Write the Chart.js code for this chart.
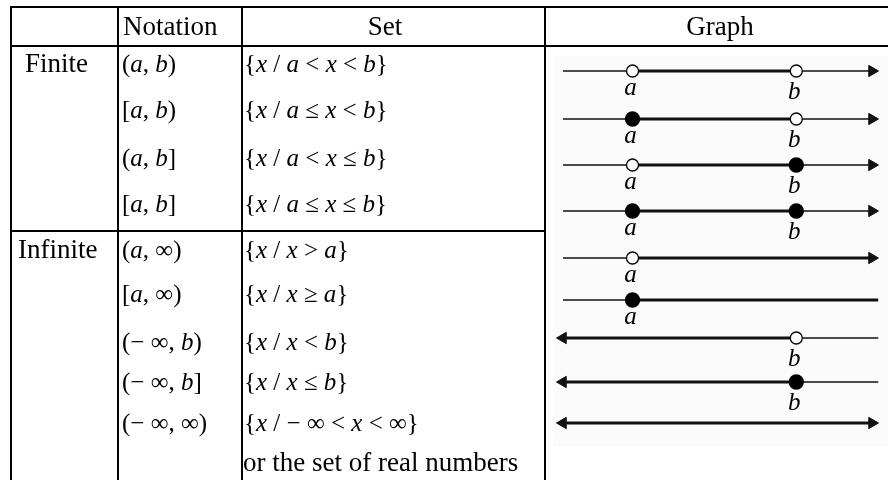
<!DOCTYPE html>
<html>
<head>
<meta charset="utf-8">
<script src="https://cdn.jsdelivr.net/npm/chart.js@4"></script>
<style>
  html, body { margin: 0; padding: 0; background: #fff; }
  #chart { display: block; }
</style>
</head>
<body>
<canvas id="chart" width="888" height="480"></canvas>
<script>
// --- Data ---
const HEADERS = ['Notation', 'Set', 'Graph'];
const GROUPS = ['Finite', 'Infinite'];
const GROUP_FIRST_ROW = [0, 4];
const NOTATIONS = ['(a, b)', '[a, b)', '(a, b]', '[a, b]', '(a, ∞)', '[a, ∞)', '(− ∞, b)', '(− ∞, b]', '(− ∞, ∞)'];
const SETS = ['{x / a < x < b}', '{x / a ≤ x < b}', '{x / a < x ≤ b}', '{x / a ≤ x ≤ b}',
  '{x / x > a}', '{x / x ≥ a}', '{x / x < b}', '{x / x ≤ b}', '{x / − ∞ < x < ∞}'];
const SET_NOTE = 'or the set of real numbers';

// number line values
const A = 2.25;
const B = 7.55;
const LINE_MIN = 0;
const LINE_MAX = 10;      // where an arrow sits
const LINE_MAX_PLAIN = 10.2; // right end without arrow

// null = unbounded
const FROM = [A, A, A, A, A, A, null, null, null];
const TO = [B, B, B, B, null, null, B, B, null];
const FROM_CLOSED = [false, true, false, true, false, true, false, false, false];
const TO_CLOSED = [false, false, true, true, false, false, false, true, false];
const ARROW_LEFT = [false, false, false, false, false, false, true, true, true];
const ARROW_RIGHT = [true, true, true, true, true, false, false, false, true];

// --- Layout ---
const COL_X = [11, 118, 242, 545];
const RIGHT_X = 888;
const TOP_Y = 7;
const HEAD_Y = 46;
const GROUP_SEP_Y = 231;
const HEAD_BASE = 35;
const HEAD_X = [123, 385, 720];
const GROUP_X = [25, 18];
const TEXT_BASE = [72, 118, 166, 212, 258, 302, 350, 390, 431];
const NOTE_BASE = 471;
const NOTATION_X = 122;
const SET_X = 244;
const LINE_Y = [71, 119, 165, 211, 258, 300, 338, 382, 423];
const SERIF = '"Liberation Serif", "DejaVu Serif", serif';

const THIN = 1.4;
const THICK = 3.2;
const ARROW_R = 6.5;

// --- Datasets ---
const datasets = [];

function segment(i, x0, x1, width, arrowL, arrowR) {
  datasets.push({
    data: [{ x: x0, y: LINE_Y[i] }, { x: x1, y: LINE_Y[i] }],
    showLine: true,
    borderColor: '#111',
    borderWidth: width,
    pointStyle: 'triangle',
    pointRotation: [-90, 90],
    pointRadius: [arrowL ? ARROW_R : 0, arrowR ? ARROW_R : 0],
    pointBackgroundColor: '#111',
    pointBorderColor: '#111',
    pointBorderWidth: 1,
    order: 2,
  });
}

const endPoints = [];
const endFill = [];

for (let i = 0; i < NOTATIONS.length; i++) {
  const end = ARROW_RIGHT[i] ? LINE_MAX : LINE_MAX_PLAIN;
  const lo = FROM[i] === null ? LINE_MIN : FROM[i];
  const hi = TO[i] === null ? end : TO[i];
  if (FROM[i] !== null) segment(i, LINE_MIN, lo, THIN, false, false);
  segment(i, lo, hi, THICK, ARROW_LEFT[i] && FROM[i] === null, ARROW_RIGHT[i] && TO[i] === null);
  if (TO[i] !== null) segment(i, hi, end, THIN, false, ARROW_RIGHT[i]);
  if (FROM[i] !== null) {
    endPoints.push({ x: FROM[i], y: LINE_Y[i], label: 'a' });
    endFill.push(FROM_CLOSED[i]);
  }
  if (TO[i] !== null) {
    endPoints.push({ x: TO[i], y: LINE_Y[i], label: 'b' });
    endFill.push(TO_CLOSED[i]);
  }
}

datasets.push({
  data: endPoints,
  pointStyle: 'circle',
  pointRadius: endFill.map((f) => (f ? 7 : 6)),
  pointBackgroundColor: endFill.map((f) => (f ? '#000' : '#fff')),
  pointBorderColor: '#000',
  pointBorderWidth: 1.3,
  order: 0,
});

// --- Helpers ---
function drawMath(ctx, str, x, y, size) {
  const parts = str.split(/([abx])/);
  for (const p of parts) {
    if (!p) continue;
    const italic = /^[abx]$/.test(p);
    ctx.font = (italic ? 'italic ' : '') + size + 'px ' + SERIF;
    ctx.fillText(p, x, y);
    x += ctx.measureText(p).width;
  }
}

function line(ctx, x0, y0, x1, y1) {
  ctx.beginPath();
  ctx.moveTo(x0, y0);
  ctx.lineTo(x1, y1);
  ctx.stroke();
}

// --- Table plugin ---
const tablePlugin = {
  id: 'table',
  beforeDatasetsDraw(chart) {
    const ctx = chart.ctx;
    ctx.save();
    ctx.fillStyle = '#fbfbfb';
    ctx.fillRect(553, 56, RIGHT_X - 553, 447 - 56);

    ctx.strokeStyle = '#000';
    ctx.lineWidth = 2;
    line(ctx, COL_X[0], TOP_Y, RIGHT_X, TOP_Y);
    line(ctx, COL_X[0], HEAD_Y, RIGHT_X, HEAD_Y);
    line(ctx, COL_X[0], GROUP_SEP_Y, COL_X[3], GROUP_SEP_Y);
    for (const x of COL_X) line(ctx, x, TOP_Y - 1, x, 480);

    ctx.fillStyle = '#000';
    ctx.textBaseline = 'alphabetic';
    ctx.font = '27px ' + SERIF;
    ctx.textAlign = 'left';
    ctx.fillText(HEADERS[0], HEAD_X[0], HEAD_BASE);
    ctx.textAlign = 'center';
    ctx.fillText(HEADERS[1], HEAD_X[1], HEAD_BASE);
    ctx.fillText(HEADERS[2], HEAD_X[2], HEAD_BASE);

    ctx.textAlign = 'left';
    GROUPS.forEach((g, k) => {
      ctx.font = '27px ' + SERIF;
      ctx.fillText(g, GROUP_X[k], TEXT_BASE[GROUP_FIRST_ROW[k]]);
    });

    NOTATIONS.forEach((n, i) => {
      drawMath(ctx, n, NOTATION_X, TEXT_BASE[i], 25);
      drawMath(ctx, SETS[i], SET_X, TEXT_BASE[i], 25);
    });
    ctx.font = '27px ' + SERIF;
    ctx.fillText(SET_NOTE, SET_X - 1, NOTE_BASE);
    ctx.restore();
  },
  afterDatasetsDraw(chart) {
    const ctx = chart.ctx;
    const xs = chart.scales.x;
    const ys = chart.scales.y;
    ctx.save();
    ctx.fillStyle = '#000';
    ctx.textAlign = 'center';
    ctx.font = 'italic 25px ' + SERIF;
    for (const p of endPoints) {
      const px = xs.getPixelForValue(p.x);
      const py = ys.getPixelForValue(p.y);
      ctx.fillText(p.label, px - 2, py + (p.label === 'a' ? 24 : 28));
    }
    ctx.restore();
  },
};

new Chart(document.getElementById('chart'), {
  type: 'scatter',
  data: { datasets },
  options: {
    responsive: false,
    animation: false,
    events: [],
    layout: { padding: 0, autoPadding: false },
    scales: {
      x: { type: 'linear', min: -18.22, max: 10.518, display: false },
      y: { type: 'linear', min: 0, max: 480, reverse: true, display: false },
    },
    plugins: { legend: { display: false }, tooltip: { enabled: false } },
  },
  plugins: [tablePlugin],
});
</script>
</body>
</html>
